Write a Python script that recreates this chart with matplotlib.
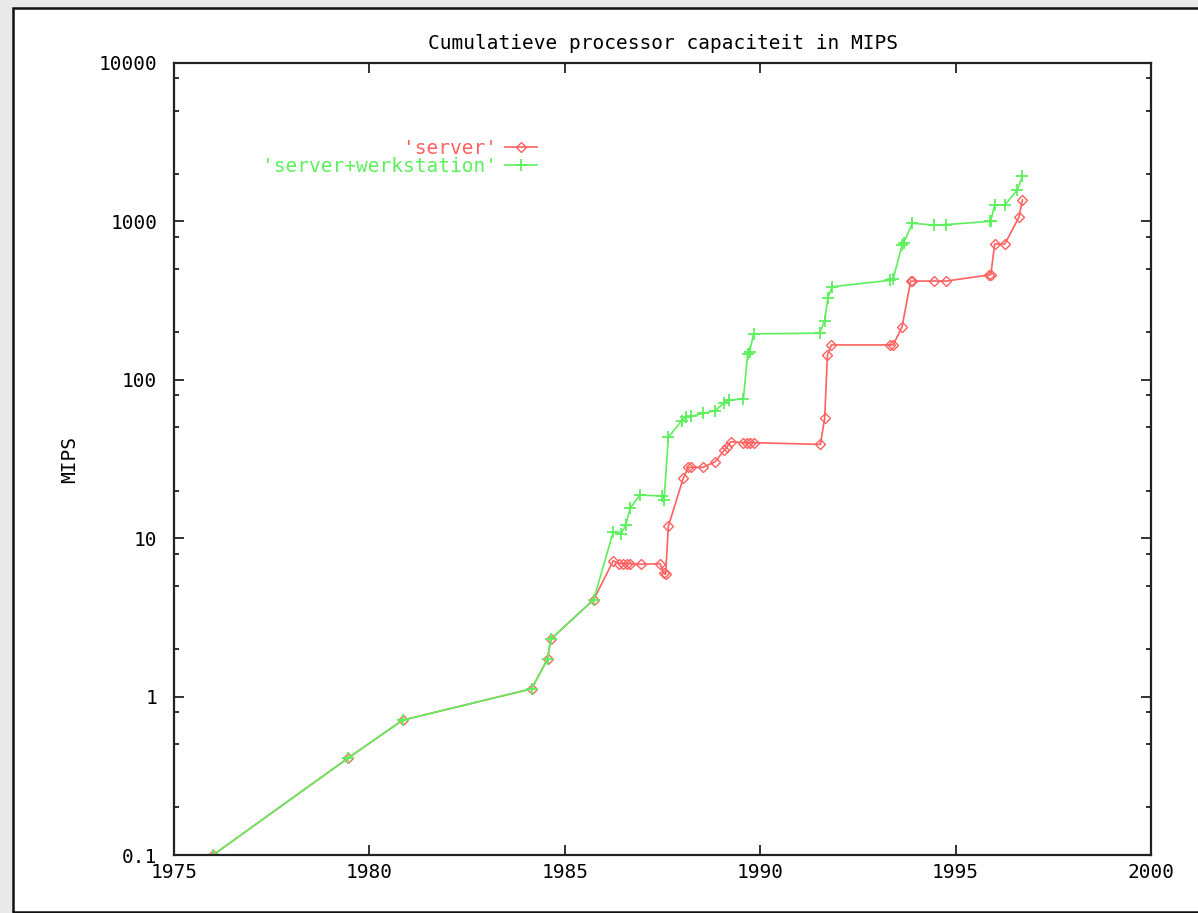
import matplotlib
matplotlib.use("Agg")
import matplotlib.pyplot as plt
from matplotlib.patches import Rectangle
from matplotlib.ticker import LogLocator, FixedLocator, NullFormatter, FuncFormatter

# data (year, cumulative MIPS)
server_years = [1976.0, 1979.46, 1980.85, 1984.15, 1984.56, 1984.64, 1985.74,
                1986.24, 1986.39, 1986.49, 1986.58, 1986.67, 1986.95, 1987.44,
                1987.53, 1987.58, 1987.65, 1988.03, 1988.16, 1988.23, 1988.53,
                1988.85, 1989.08, 1989.14, 1989.25, 1989.57, 1989.66, 1989.74,
                1989.83, 1991.54, 1991.65, 1991.72, 1991.82, 1993.33, 1993.40,
                1993.63, 1993.85, 1993.89, 1994.44, 1994.76, 1995.85, 1995.90,
                1996.00, 1996.26, 1996.62, 1996.71]
server_mips = [0.1, 0.41, 0.71, 1.12, 1.73, 2.3, 4.1,
               7.2, 6.9, 6.9, 6.9, 6.9, 6.85, 6.9,
               6.0, 5.9, 11.9, 23.9, 28, 28, 28,
               30.4, 36, 37.5, 40.7, 40.1, 40.1, 40.1,
               40.1, 39.1, 57.1, 143, 166, 166, 166,
               216, 420, 420, 420, 420, 459, 459,
               720, 720, 1062, 1366]

ws_years = [1976.0, 1979.46, 1980.85, 1984.15, 1984.56, 1984.64, 1985.74,
            1986.24, 1986.44, 1986.56, 1986.67, 1986.92, 1987.48, 1987.54,
            1987.65, 1987.99, 1988.10, 1988.22, 1988.53, 1988.85, 1989.08,
            1989.21, 1989.57, 1989.68, 1989.73, 1989.83, 1991.52, 1991.65,
            1991.73, 1991.84, 1993.33, 1993.40, 1993.63, 1993.67, 1993.89,
            1994.44, 1994.76, 1995.87, 1995.90, 1996.00, 1996.26, 1996.58,
            1996.71]
ws_mips = [0.1, 0.41, 0.71, 1.12, 1.73, 2.3, 4.1,
           11.0, 10.7, 12.1, 15.4, 18.7, 18.5, 17.4,
           43.4, 55.2, 58, 58.7, 61.4, 63.8, 71.7,
           74.5, 75.6, 146, 150, 195, 197, 236,
           327, 387, 425, 431, 710, 730, 973,
           949, 955, 1000, 1006, 1270, 1270, 1579,
           1935]

x_ticks = [1975, 1980, 1985, 1990, 1995, 2000]
y_ticks = [0.1, 1, 10, 100, 1000, 10000]

plt.rcParams['font.family'] = ['DejaVu Sans Mono']
fs = 14

fig = plt.figure(figsize=(11.98, 9.13), dpi=100, facecolor='#e9e9e9')

# white panel with black frame like the screenshot
fig.patches.append(Rectangle((12.7 / 1198, 1.3 / 913), 1.1, 903.4 / 913,
                             transform=fig.transFigure, facecolor='white',
                             edgecolor='#111111', linewidth=1.8, zorder=-10))

ax = fig.add_axes([174 / 1198, 58 / 913, 977 / 1198, 792 / 913])
ax.set_zorder(5)

ax.plot(server_years, server_mips, color='#ff6060', lw=1.2, marker='D',
        ms=5, mfc='none', mew=1.0, label="'server'")
ax.plot(ws_years, ws_mips, color='#5cf05c', lw=1.2, marker='+',
        ms=8.5, mew=1.3, label="'server+werkstation'")

ax.set_yscale('log')
ax.set_xlim(1975, 2000)
ax.set_ylim(0.1, 10000)

ax.xaxis.set_major_locator(FixedLocator(x_ticks))
ax.yaxis.set_major_locator(FixedLocator(y_ticks))
ax.yaxis.set_minor_locator(LogLocator(base=10, subs=[2, 5, 8], numticks=20))
ax.yaxis.set_minor_formatter(NullFormatter())
ax.yaxis.set_major_formatter(FuncFormatter(lambda v, p: f"{v:g}"))

ax.tick_params(which='both', direction='in', top=True, right=True,
               color='#222222', labelsize=fs)
ax.tick_params(which='major', length=7, width=1.3)
ax.tick_params(which='minor', length=3.5, width=1.3)
ax.tick_params(axis='y', pad=12)
ax.tick_params(axis='x', pad=6)
for s in ax.spines.values():
    s.set_color('#222222')
    s.set_linewidth(1.6)

ax.set_title('Cumulatieve processor capaciteit in MIPS', fontsize=fs, pad=10)
ax.set_ylabel('MIPS', fontsize=fs)
ax.yaxis.set_label_coords(-0.097, 0.5)

ax.legend(loc='upper right', bbox_to_anchor=(0.3715, 0.904), frameon=False,
          markerfirst=False, labelcolor='linecolor', fontsize=fs,
          handlelength=1.65, handletextpad=0.42, borderpad=0, borderaxespad=0,
          labelspacing=-0.05, numpoints=1)

fig.savefig('out.png', dpi=100, facecolor=fig.get_facecolor())
